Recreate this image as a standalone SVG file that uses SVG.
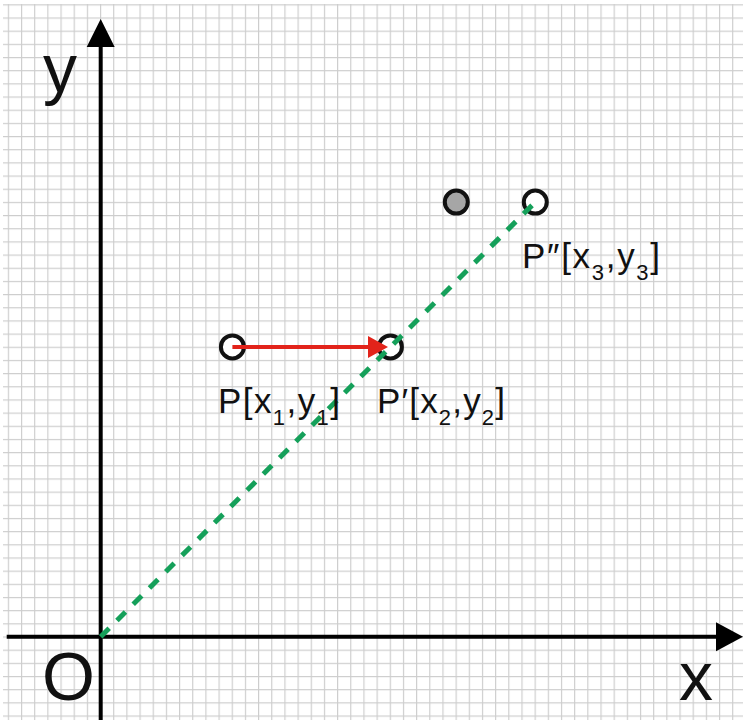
<svg xmlns="http://www.w3.org/2000/svg" width="743" height="720" viewBox="0 0 743 720">
  <style>
    .lbl { font-family: "Liberation Sans", Arial, sans-serif; fill: #111; }
    .big { font-size: 68px; }
    .pt { font-size: 35px; }
    .sub { font-size: 22px; }
    .node { fill: #ffffff; stroke: #111; stroke-width: 4; }
    .axis { stroke: #000; stroke-width: 4; fill: none; }
  </style>
  <defs>
    <pattern id="grid" patternUnits="userSpaceOnUse" x="7.8" y="4.3" width="13.17" height="13.17">
      <path d="M0.5 0V13.17M0 0.5H13.17" stroke="#cdcdcd" stroke-width="1.3" fill="none"/>
    </pattern>
  </defs>
  <rect width="743" height="720" fill="#ffffff"/>
  <rect x="3" y="4" width="740" height="716" fill="url(#grid)"/>

  <g id="connectors">
    <g id="y-axis">
      <line class="axis" x1="100.7" y1="720" x2="100.7" y2="44"/>
      <polygon points="100.7,19 86.7,47 114.7,47" fill="#000"/>
    </g>
    <g id="x-axis">
      <line class="axis" x1="6.7" y1="636.7" x2="720" y2="636.7"/>
      <polygon points="743,636.7 716,622.2 716,651.2" fill="#000"/>
    </g>
  </g>

  <g id="node-P"><circle class="node" cx="232.4" cy="346.9" r="11.5"/></g>
  <g id="node-P1"><circle class="node" cx="390.4" cy="346.9" r="11.5"/></g>
  <g id="node-P2"><circle class="node" cx="535.3" cy="202.1" r="11.5"/></g>
  <g id="node-grey"><circle class="node" cx="456.3" cy="202.1" r="11.5" style="fill:#a6a6a6"/></g>

  <g id="connectors-2">
    <g id="red-arrow">
      <line x1="232.4" y1="346.9" x2="372" y2="346.9" stroke="#e2231a" stroke-width="4"/>
      <polygon points="388,346.9 368,335.9 368,357.9" fill="#e2231a"/>
    </g>
    <line id="green-line" x1="100.7" y1="636.7" x2="535.3" y2="202.1" stroke="#15a05a" stroke-width="5" stroke-dasharray="12 11"/>
  </g>

  <g id="labels">
    <text class="lbl big" x="43" y="92">y</text>
    <text class="lbl big" x="42" y="700">O</text>
    <text class="lbl big" x="679" y="700">x</text>
    <text class="lbl pt" x="218" y="413" textLength="122" lengthAdjust="spacing">P[x<tspan class="sub" dy="12">1</tspan><tspan dy="-12">,y</tspan><tspan class="sub" dy="12">1</tspan><tspan dy="-12">]</tspan></text>
    <text class="lbl pt" x="377" y="413" textLength="128" lengthAdjust="spacing">P′[x<tspan class="sub" dy="12">2</tspan><tspan dy="-12">,y</tspan><tspan class="sub" dy="12">2</tspan><tspan dy="-12">]</tspan></text>
    <text class="lbl pt" x="522" y="268" textLength="138" lengthAdjust="spacing">P″[x<tspan class="sub" dy="12">3</tspan><tspan dy="-12">,y</tspan><tspan class="sub" dy="12">3</tspan><tspan dy="-12">]</tspan></text>
  </g>
</svg>
